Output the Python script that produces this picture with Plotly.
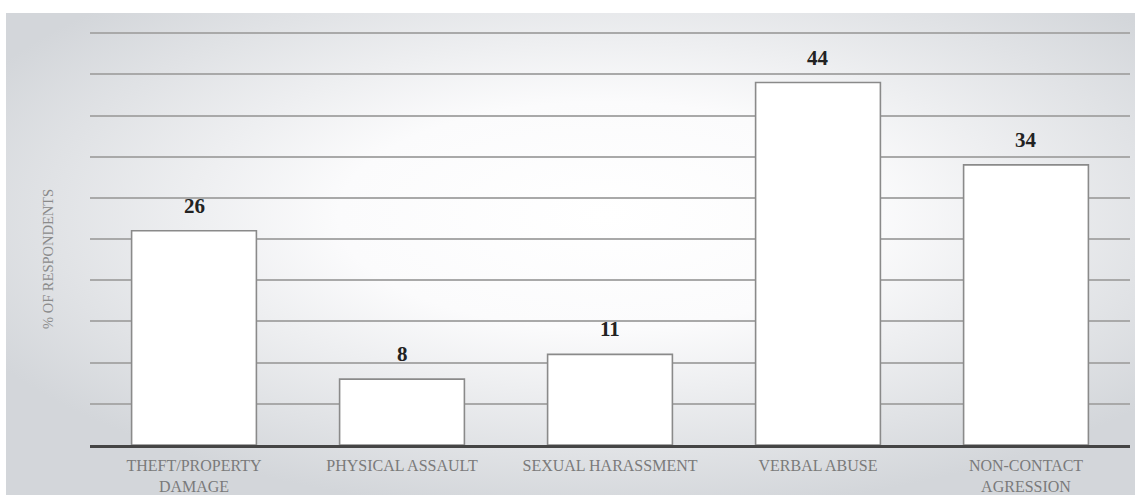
import base64
import plotly.graph_objects as go

categories = ["THEFT/PROPERTY<br>DAMAGE", "PHYSICAL ASSAULT", "SEXUAL HARASSMENT",
              "VERBAL ABUSE", "NON-CONTACT<br>AGRESSION"]
values = [26, 8, 11, 44, 34]
y_title = "% OF RESPONDENTS"

SERIF = "Liberation Serif, Times New Roman, serif"

# soft radial backdrop: bright middle fading to cool grey edges
svg = (
    '<svg xmlns="http://www.w3.org/2000/svg" width="1129" height="482" '
    'preserveAspectRatio="none" viewBox="0 0 1129 482">'
    '<defs><radialGradient id="g" cx="0.53" cy="0.42" r="0.62">'
    '<stop offset="0" stop-color="#ffffff"/>'
    '<stop offset="0.38" stop-color="#fbfbfc"/>'
    '<stop offset="1" stop-color="#d3d6da"/>'
    '</radialGradient></defs>'
    '<rect width="1129" height="482" fill="url(#g)"/></svg>'
)
bg_uri = "data:image/svg+xml;base64," + base64.b64encode(svg.encode()).decode()

W, H = 1135, 495
L, R, T, B = 90, 5, 29, 50
pw, ph = W - L - R, H - T - B
Y_TOP = 50.5

fig = go.Figure(go.Bar(
    x=categories, y=values,
    marker=dict(color="white", line=dict(color="#8a8a8a", width=1.6)),
    hoverinfo="skip",
))

annotations = [
    dict(x=c, y=v, xref="x", yref="y", text=f"<b>{v}</b>", showarrow=False,
         yanchor="bottom", yshift=11,
         font=dict(family=SERIF, size=21, color="#222222"))
    for c, v in zip(categories, values)
]
annotations.append(dict(
    x=(38 - L) / pw, y=(H - B - 259) / ph, xref="paper", yref="paper",
    text=y_title, textangle=-90, showarrow=False,
    font=dict(family=SERIF, size=14.5, color="#8a8a8a"),
))

fig.update_layout(
    width=W, height=H,
    margin=dict(l=L, r=R, t=T, b=B),
    paper_bgcolor="white", plot_bgcolor="rgba(0,0,0,0)",
    bargap=0.4, showlegend=False,
    annotations=annotations,
    images=[dict(
        source=bg_uri, xref="paper", yref="paper",
        x=(6 - L) / pw, y=(H - B - 13) / ph,
        sizex=1129 / pw, sizey=482 / ph,
        xanchor="left", yanchor="top", sizing="stretch", layer="below",
    )],
    xaxis=dict(
        showline=True, linecolor="#454545", linewidth=2.5,
        ticks="", showgrid=False, ticklabelstandoff=4, automargin=False,
        tickfont=dict(family=SERIF, size=16, color="#7a7a7a"),
    ),
    yaxis=dict(
        range=[0, Y_TOP], dtick=5, showticklabels=False, ticks="",
        showgrid=True, gridcolor="#a9a9a9", gridwidth=1.5,
        zeroline=False, showline=False, automargin=False,
    ),
)

fig.write_html("out.html")
